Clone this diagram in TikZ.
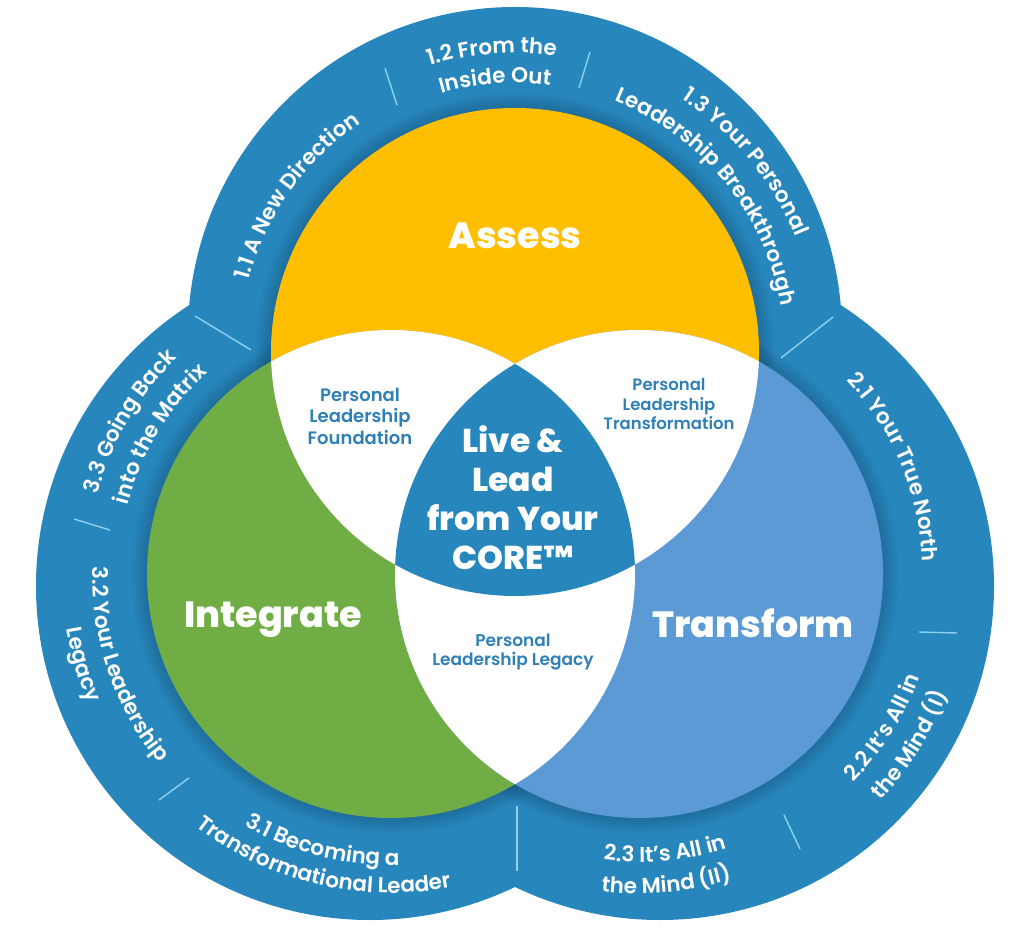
\documentclass[tikz,border=0pt]{standalone}
\usepackage{fontspec}
\setmainfont{Poppins}
\newfontfamily\ringfont{Poppins Medium}
\newfontfamily\heavyfont{Poppins ExtraBold}
\newfontfamily\semifont{Poppins SemiBold}
\usetikzlibrary{decorations.text,calc}
\definecolor{ringblue}{HTML}{2787BD}
\definecolor{subblue}{HTML}{2F80B6}
\definecolor{yellowc}{HTML}{FFBF00}
\definecolor{greenc}{HTML}{70AD44}
\definecolor{bluec}{HTML}{5B9AD5}
\definecolor{sepblue}{HTML}{8ED0F0}
\definecolor{shadowc}{HTML}{0B3550}
\newcommand\ringtext{\semifont\fontsize{21.5}{21.5}\selectfont\color{white}}
% #1 centre, #2 baseline radius, #3 mid angle, #4 +1 ccw / -1 cw, #5 text
\newcommand\ringlabel[5]{%
  \path[decorate, decoration={text along path, text align=center, text={|\ringtext|#5}}]
    ($(#1)+({#3-#4*70}:#2)$) arc[start angle={#3-#4*70}, end angle={#3+#4*70}, radius=#2];}
\newcommand\shadowdisc[1]{%
  \foreach \k in {1,...,8}{\fill[shadowc,opacity=0.035] (#1) circle[radius={244+2*\k}];}}
\tikzset{
  mainlabel/.style={text=white, font=\heavyfont\fontsize{36.5}{36.5}\selectfont},
  corelabel/.style={text=white, align=center, font=\heavyfont\fontsize{33}{39}\selectfont},
  sublabel/.style={text=subblue, align=center, font=\semifont\fontsize{16.5}{19.5}\selectfont},
  sepline/.style={draw=sepblue, line width=1.4pt}
}
\begin{document}
\begin{tikzpicture}[x=1pt,y=1pt]
\useasboundingbox (0,0) rectangle (1024,932);
\fill[white] (0,0) rectangle (1024,932);
% centres
\coordinate (Y) at (515,580);
\coordinate (G) at (391,358);
\coordinate (B) at (639,358);
\coordinate (OT) at (515,598);
\coordinate (OL) at (370,346);
\coordinate (OR) at (660,346);
% outer rings
\fill[ringblue] (OT) circle[radius=327];
\fill[ringblue] (OL) circle[radius=334];
\fill[ringblue] (OR) circle[radius=334];
% shadows
\shadowdisc{Y}\shadowdisc{G}\shadowdisc{B}
% venn circles
\fill[yellowc] (Y) circle[radius=244];
\fill[greenc] (G) circle[radius=244];
\fill[bluec] (B) circle[radius=244];
\begin{scope}
  \clip (Y) circle[radius=244];
  \fill[white] (G) circle[radius=244];
  \fill[white] (B) circle[radius=244];
\end{scope}
\begin{scope}
  \clip (G) circle[radius=244];
  \fill[white] (B) circle[radius=244];
\end{scope}
\begin{scope}
  \clip (Y) circle[radius=244];
  \clip (G) circle[radius=244];
  \fill[ringblue] (B) circle[radius=244];
\end{scope}
% separators
\draw[sepline] (385,864) -- (397,827);
\draw[sepline] (590,880) -- (579,844);
\draw[sepline] (833,615) -- (781,574);
\draw[sepline] (919,300) -- (957,299);
\draw[sepline] (784,117) -- (800,83);
\draw[sepline] (517,126) -- (517,61);
\draw[sepline] (189,154) -- (159,132);
\draw[sepline] (74,413) -- (110,402);
\draw[sepline] (195,616) -- (251,582);
% ring labels
\ringlabel{Y}{276}{144.5}{-1}{1.1 A New Direction}
\ringlabel{Y}{299}{94.4}{-1}{1.2 From the}
\ringlabel{Y}{269}{94.2}{-1}{Inside Out}
\ringlabel{Y}{303}{39.5}{-1}{1.3 Your Personal}
\ringlabel{Y}{270}{39.1}{-1}{Leadership Breakthrough}
\ringlabel{B}{284}{22.7}{-1}{2.1 Your True North}
\ringlabel{B}{299}{-32.1}{1}{2.2 It’s All in}
\ringlabel{B}{331}{-32.2}{1}{the Mind (I)}
\ringlabel{B}{288}{-84.6}{1}{2.3 It’s All in}
\ringlabel{B}{319.5}{-84.9}{1}{the Mind (II)}
\ringlabel{G}{291}{-104.3}{1}{3.1 Becoming a}
\ringlabel{G}{319}{-103.4}{1}{Transformational Leader}
\ringlabel{G}{299}{198.9}{1}{3.2 Your Leadership}
\ringlabel{G}{329}{196.4}{1}{Legacy}
\ringlabel{G}{304}{149.7}{-1}{3.3 Going Back}
\ringlabel{G}{272}{148.8}{-1}{into the Matrix}
% main labels
\node[mainlabel] (assess) at (515,696) {Assess};
\node[mainlabel] (integrate) at (273,312) {Integrate};
\node[mainlabel] (transform) at (753,309) {Transform};
\node[corelabel] (core) at (513,434) {Live \&\\Lead\\from Your\\CORE™};
\node[sublabel, font=\semifont\fontsize{18}{21.5}\selectfont] (found) at (360,516) {Personal\\Leadership\\Foundation};
\node[sublabel] (transf) at (669,528) {Personal\\Leadership\\Transformation};
\node[sublabel, font=\semifont\fontsize{17}{19}\selectfont] (legacy) at (513,280) {Personal\\Leadership Legacy};
\end{tikzpicture}
\end{document}
